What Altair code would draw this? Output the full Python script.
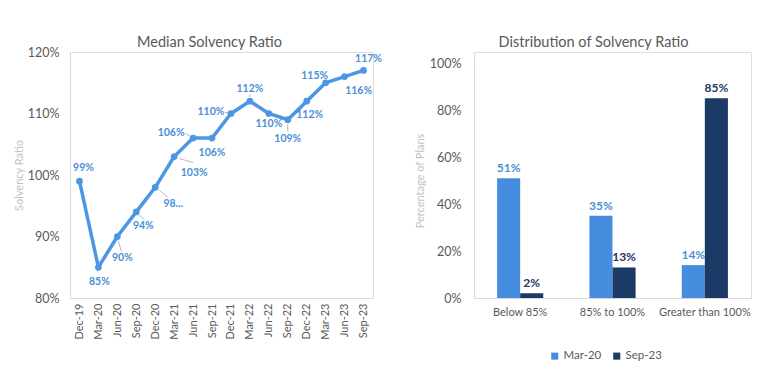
import altair as alt
import pandas as pd

# ---------------- data ----------------
months = ["Dec-19", "Mar-20", "Jun-20", "Sep-20", "Dec-20", "Mar-21", "Jun-21", "Sep-21",
          "Dec-21", "Mar-22", "Jun-22", "Sep-22", "Dec-22", "Mar-23", "Jun-23", "Sep-23"]
median_ratio = [99, 85, 90, 94, 98, 103, 106, 106, 110, 112, 110, 109, 112, 115, 116, 117]
ratio_labels = ["99%", "85%", "90%", "94%", "98...", "103%", "106%", "106%",
                "110%", "112%", "110%", "109%", "112%", "115%", "116%", "117%"]

bands = ["Below 85%", "85% to 100%", "Greater than 100%"]
series = ["Mar-20", "Sep-23"]
share_mar20 = [51, 35, 14]
share_sep23 = [2, 13, 85]

# ---------------- style ----------------
FONT = "Lato"
GRAY = "#595959"
LIGHT = "#BFBFBF"
AXISLINE = "#D9D9D9"
LEADER = "#A6A6A6"
LINE_BLUE = "#4C96E3"
LABEL_BLUE = "#4A8FD6"
BAR_LIGHT = "#468DE0"
BAR_DARK = "#1B3A66"
LABEL_DARK = "#1F3864"

# label offsets (dx, dy) per point, mimicking the original's label placement
label_offsets = {
    "Dec-19": (4, -13), "Mar-20": (1, 15), "Jun-20": (5, 21), "Sep-20": (7, 14),
    "Dec-20": (18, 17), "Mar-21": (20, 16), "Jun-21": (-22, -5), "Sep-21": (0, 15),
    "Dec-21": (-20, -2), "Mar-22": (0, -12), "Jun-22": (0, 10), "Sep-22": (0, 19),
    "Dec-22": (3, 14), "Mar-23": (-11, -7), "Jun-23": (14, 14), "Sep-23": (5, -11),
}
# short leader lines (start dx, start dy, end dx, end dy) relative to the point
leader_offsets = {
    "Jun-20": (1, 4, 4, 15), "Sep-20": (3, 3, 8, 8), "Dec-20": (4, 3, 13, 10),
    "Mar-21": (5, 2, 19, 6), "Jun-21": (-3, -2, -8, -5), "Dec-21": (-2, -1, -6, -1),
    "Mar-22": (0, -4, 0, -7), "Sep-22": (0, 4, 0, 12),
}

line_df = pd.DataFrame({"month": months, "ratio": median_ratio, "label": ratio_labels})

rows = []
for b, a, s in zip(bands, share_mar20, share_sep23):
    rows.append({"band": b, "series": series[0], "share": a})
    rows.append({"band": b, "series": series[1], "share": s})
bar_df = pd.DataFrame(rows)

PLOT_H = 246

# ---------------- left: line chart ----------------
x_line = alt.X("month:N", sort=months, title=None,
               scale=alt.Scale(type="point", padding=0.5),
               axis=alt.Axis(labelAngle=270, labelFontSize=11, labelColor=GRAY,
                             labelPadding=5, ticks=False, domainColor=AXISLINE))
y_line = alt.Y("ratio:Q", title="Solvency Ratio",
               scale=alt.Scale(domain=[80, 120], nice=False, zero=False),
               axis=alt.Axis(values=[80, 90, 100, 110, 120], labelExpr="datum.value + '%'",
                             labelFontSize=12.5, labelColor=GRAY, labelPadding=11,
                             ticks=False, grid=False, domainColor=AXISLINE,
                             titleColor=LIGHT, titleFontSize=11, titleFontWeight="normal",
                             titlePadding=3))

base_line = alt.Chart(line_df)

leader_layers = []
for m, (x0, y0, x1, y1) in leader_offsets.items():
    leader_layers.append(
        base_line.transform_filter(alt.datum.month == m)
        .mark_rule(color=LEADER, strokeWidth=0.8, xOffset=x0, yOffset=y0,
                   x2Offset=x1, y2Offset=y1)
        .encode(x=x_line, y=y_line, x2=alt.X2("month:N"), y2=alt.Y2("ratio:Q"))
    )

line = base_line.mark_line(color=LINE_BLUE, strokeWidth=3.5).encode(x=x_line, y=y_line)
pts = base_line.mark_circle(color=LINE_BLUE, size=45, opacity=1).encode(x=x_line, y=y_line)

label_layers = []
for m in months:
    dx, dy = label_offsets[m]
    label_layers.append(
        base_line.transform_filter(alt.datum.month == m)
        .mark_text(dx=dx, dy=dy, fontSize=10.5, fontWeight="bold", color=LABEL_BLUE,
                   font=FONT, baseline="middle", align="center")
        .encode(x=x_line, y=y_line, text="label:N")
    )

left = alt.layer(*leader_layers, line, pts, *label_layers).properties(
    width=303, height=PLOT_H,
    title=alt.TitleParams("Median Solvency Ratio", fontSize=14.5, color=GRAY,
                          fontWeight="normal", font=FONT, offset=-4, dx=-12),
)

# ---------------- right: grouped bars ----------------
x_bar = alt.X("band:N", sort=bands, title=None,
              scale=alt.Scale(paddingInner=0, paddingOuter=0),
              axis=alt.Axis(labelAngle=0, labelFontSize=11, labelColor=GRAY,
                            labelPadding=8, ticks=False, domainColor=AXISLINE))
xo_bar = alt.XOffset("series:N", sort=series,
                     scale=alt.Scale(paddingInner=0, paddingOuter=1))
y_bar = alt.Y("share:Q", title="Percentage of Plans",
              scale=alt.Scale(domain=[0, 100], nice=False, range=[PLOT_H, 11]),
              axis=alt.Axis(values=[0, 20, 40, 60, 80, 100], labelExpr="datum.value + '%'",
                            labelFontSize=12.5, labelColor=GRAY, labelPadding=13,
                            ticks=False, grid=False, domainColor=AXISLINE,
                            titleColor=LIGHT, titleFontSize=11, titleFontWeight="normal",
                            titlePadding=4))

base_bar = alt.Chart(bar_df)
bars = base_bar.mark_bar().encode(
    x=x_bar, xOffset=xo_bar, y=y_bar,
    color=alt.Color("series:N", sort=series,
                    scale=alt.Scale(domain=series, range=[BAR_LIGHT, BAR_DARK]),
                    legend=alt.Legend(title=None, orient="none", direction="horizontal",
                                      legendX=479, legendY=298, symbolType="square",
                                      symbolSize=50, symbolStrokeWidth=0,
                                      labelFontSize=11.5, labelColor=GRAY, labelFont=FONT,
                                      labelOffset=3, columnPadding=9)),
)
bar_text_a = base_bar.transform_filter(alt.datum.series == series[0]).transform_calculate(
    pct="datum.share + '%'"
).mark_text(
    dy=-10, fontSize=12, fontWeight="bold", color=LABEL_BLUE, font=FONT, baseline="middle"
).encode(x=x_bar, xOffset=xo_bar, y=y_bar, text="pct:N")
bar_text_b = base_bar.transform_filter(alt.datum.series == series[1]).transform_calculate(
    pct="datum.share + '%'"
).mark_text(
    dy=-10, fontSize=12, fontWeight="bold", color=LABEL_DARK, font=FONT, baseline="middle"
).encode(x=x_bar, xOffset=xo_bar, y=y_bar, text="pct:N")

right = alt.layer(bars, bar_text_a, bar_text_b).properties(
    width=277, height=PLOT_H,
    title=alt.TitleParams("Distribution of Solvency Ratio", fontSize=14.5, color=GRAY,
                          fontWeight="normal", font=FONT, offset=2, dx=-19),
)

chart = alt.hconcat(left, right, spacing=30).properties(
    padding={"left": 4, "top": 26, "right": 5, "bottom": 5}
).configure_view(stroke=None).configure(font=FONT).configure_axis(
    labelFont=FONT, titleFont=FONT
)

chart.save("out.html", embed_options={"renderer": "svg", "actions": False})
